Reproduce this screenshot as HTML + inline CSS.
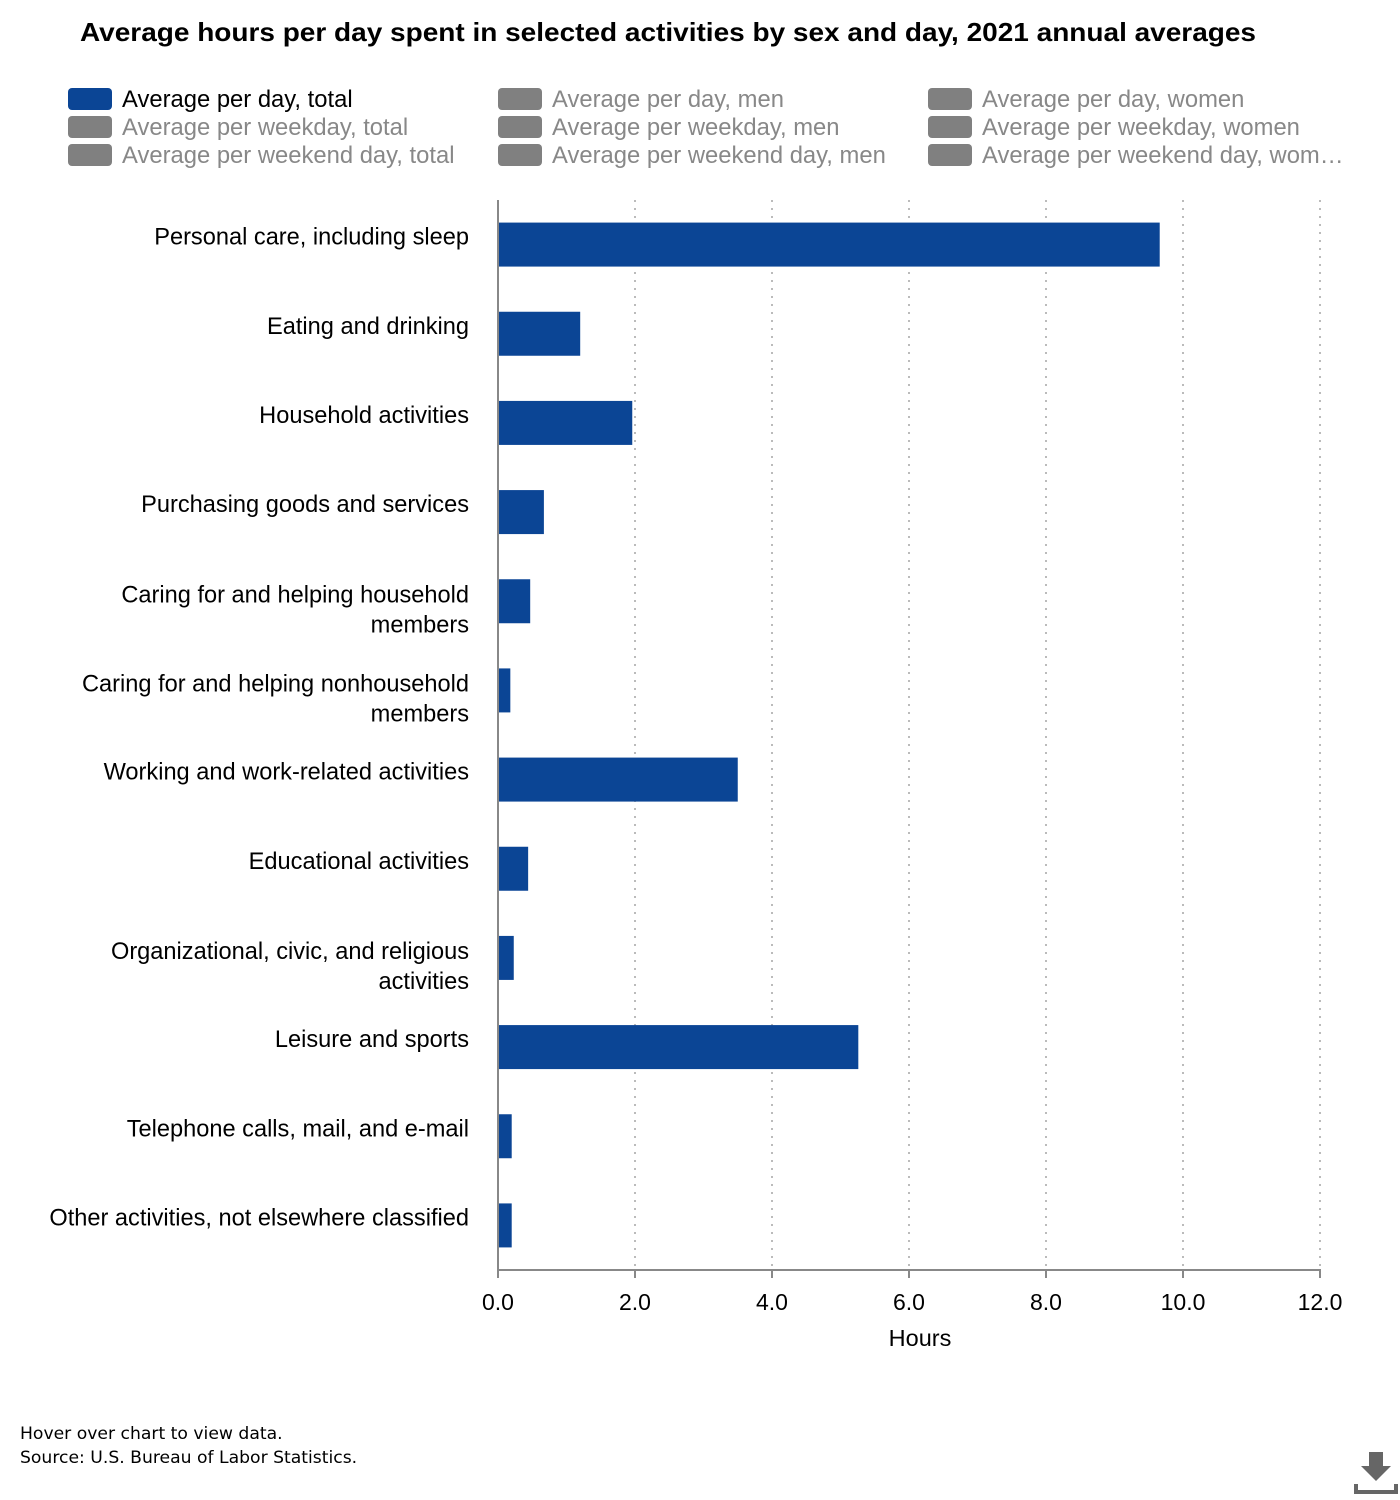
<!DOCTYPE html>
<html><head><meta charset="utf-8"><style>
html,body{margin:0;padding:0;background:#fff;}
svg{display:block;font-family:"Liberation Sans",Arial,sans-serif;}
</style></head><body>
<svg id="chart" width="1400" height="1500" xmlns="http://www.w3.org/2000/svg">
<text x="80" y="41" font-size="26" font-weight="bold" fill="#000" textLength="1176" lengthAdjust="spacingAndGlyphs">Average hours per day spent in selected activities by sex and day, 2021 annual averages</text>
<g id="legend"></g>
<g id="grid"></g>
<g id="bars"></g>
<g id="ylabels"></g>
<g id="xticks"></g>
<line x1="498" y1="200" x2="498" y2="1270" stroke="#888" stroke-width="2"/>
<line x1="498" y1="1270" x2="1321" y2="1270" stroke="#888" stroke-width="2"/>
<text x="920" y="1346" text-anchor="middle" font-size="23.5" fill="#000">Hours</text>
<text x="20" y="1439" font-size="17.2" fill="#000" font-family="DejaVu Sans, sans-serif">Hover over chart to view data.</text>
<text x="20" y="1463" font-size="17.2" fill="#000" font-family="DejaVu Sans, sans-serif">Source: U.S. Bureau of Labor Statistics.</text>
<g>
<rect x="1369" y="1452" width="14" height="16" fill="#666"/>
<polygon points="1361,1466 1391,1466 1376,1481" fill="#666"/>
<polyline points="1356,1484 1356,1492 1396,1492 1396,1484" fill="none" stroke="#666" stroke-width="4"/>
</g>
</svg>
<script>
const categories=[["Personal care, including sleep"],["Eating and drinking"],["Household activities"],["Purchasing goods and services"],["Caring for and helping household","members"],["Caring for and helping nonhousehold","members"],["Working and work-related activities"],["Educational activities"],["Organizational, civic, and religious","activities"],["Leisure and sports"],["Telephone calls, mail, and e-mail"],["Other activities, not elsewhere classified"]];
const values=[9.66,1.20,1.96,0.67,0.47,0.18,3.50,0.44,0.23,5.26,0.20,0.20];
const xTicks=[0,2,4,6,8,10,12];
const xTickLabels=["0.0","2.0","4.0","6.0","8.0","10.0","12.0"];
const legendLabels=["Average per day, total","Average per day, men","Average per day, women","Average per weekday, total","Average per weekday, men","Average per weekday, women","Average per weekend day, total","Average per weekend day, men","Average per weekend day, wom…"];
const NS="http://www.w3.org/2000/svg";
const X0=498,X1=1320,XMAX=12,TOP=200,BOT=1270;
const x=v=>X0+(v/XMAX)*(X1-X0);
const band=(BOT-TOP)/categories.length;
const y=i=>TOP+band*(i+0.5);
function mk(tag,attrs,parent){const e=document.createElementNS(NS,tag);for(const k in attrs)e.setAttribute(k,attrs[k]);parent.appendChild(e);return e;}
const grid=document.getElementById('grid'),xt=document.getElementById('xticks');
xTicks.forEach((t,i)=>{
 if(i>0){const l=mk('line',{x1:x(t),x2:x(t),y1:TOP,y2:BOT,stroke:'#bbb','stroke-width':2,'stroke-dasharray':'2,6'},grid);
 
 }
 const tk=mk('line',{x1:x(t),x2:x(t),y1:BOT,y2:BOT+8,stroke:'#888','stroke-width':2},xt);
 
 
 const tx=mk('text',{x:x(t),y:1310,'text-anchor':'middle','font-size':23,fill:'#000'},xt);
 tx.textContent=xTickLabels[i];
 
 
});
const bars=document.getElementById('bars'),yl=document.getElementById('ylabels');
values.forEach((v,i)=>{
 const r=mk('rect',{x:X0,y:y(i)-22,width:x(v)-X0,height:44,fill:'#0b4595'},bars);
 
 
 const lines=categories[i];
 const t=mk('text',{x:469,'text-anchor':'end','font-size':23.6,fill:'#000'},yl);
 
 
 const y0=lines.length===1?y(i)+0:y(i)+1;
 lines.forEach((s,j)=>{const ts=mk('tspan',{x:469,y:y0+j*30},t);ts.textContent=s;});
});
const lg=document.getElementById('legend');
legendLabels.forEach((s,i)=>{
 const col=i%3,row=Math.floor(i/3);
 const gx=68+col*430,gy=88+row*28;
 const g=mk('g',{},lg);
 
 
 mk('rect',{x:gx,y:gy,width:44,height:22,rx:4,fill:i===0?'#0b4595':'#808080'},g);
 const t=mk('text',{x:gx+54,y:gy+19,'font-size':23.8,fill:i===0?'#000':'#888'},g);
 t.textContent=s;
});
</script>
</body></html>
